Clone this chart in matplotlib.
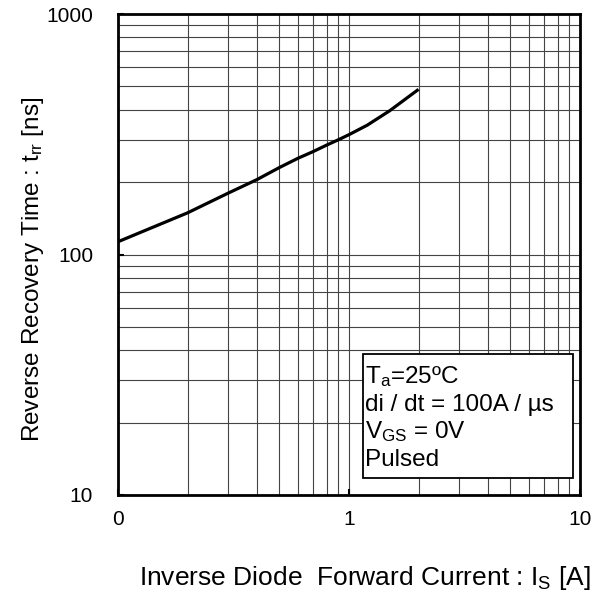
import matplotlib
matplotlib.use('Agg')
import matplotlib.pyplot as plt
from matplotlib.patches import Rectangle

plt.rcParams['font.family'] = ['Liberation Sans', 'DejaVu Sans']
plt.rcParams['mathtext.fontset'] = 'custom'
plt.rcParams['mathtext.rm'] = 'Liberation Sans'
plt.rcParams['mathtext.it'] = 'Liberation Sans'

# curve
current = [0.1, 0.2, 0.3, 0.4, 0.5, 0.6, 0.7, 0.8, 0.9, 1.0, 1.2, 1.5, 2.0]   # I_S [A]
trr = [113, 149, 180, 205, 230, 251, 268, 285, 300, 315, 345, 396, 486]      # t_rr [ns]

xticks = [0.1, 1, 10]
xtick_labels = ['0', '1', '10']
yticks = [10, 100, 1000]
ytick_labels = ['10', '100', '1000']

box_lines = ['T$_{\\mathregular{a}}$=25ºC',
             'di / dt = 100A / µs',
             'V$_{\\mathregular{GS}}$ = 0V',
             'Pulsed']

fig = plt.figure(figsize=(6.01, 6.07), dpi=100)
ax = fig.add_axes([118/601, 1 - 495/607, 462/601, 481/607])

ax.set_xscale('log')
ax.set_yscale('log')
ax.set_xlim(0.1, 10)
ax.set_ylim(10, 1000)

ax.grid(True, which='both', color='#444444', lw=0.8)
ax.set_axisbelow(True)

ax.plot(current, trr, color='black', lw=2.3, solid_capstyle='butt', solid_joinstyle='round')

ax.set_xticks(xticks, xtick_labels)
ax.set_yticks(yticks, ytick_labels)
ax.tick_params(which='minor', length=0)
ax.tick_params(which='major', direction='in', length=4, width=1.5, labelsize=15)
ax.tick_params(axis='x', pad=11)
ax.tick_params(axis='y', pad=18)
for s in ax.spines.values():
    s.set_linewidth(2)

# condition box
ax.add_patch(Rectangle((0.530, 0.035), 0.455, 0.258, transform=ax.transAxes,
                       facecolor='white', edgecolor='black', lw=1.3, zorder=5))
for txt, yy in zip(box_lines, [0.247, 0.187, 0.131, 0.073]):
    ax.text(0.535, yy, txt, transform=ax.transAxes, fontsize=17.5,
            va='center', ha='left', zorder=6)

fig.text(365/601, 1 - 578/607, 'Inverse Diode  Forward Current : I$_{\\mathregular{S}}$ [A]',
         ha='center', va='center', fontsize=19)
fig.text(33/601, 1 - 269/607, 'Reverse Recovery Time : t$_{\\mathregular{rr}}$ [ns]',
         ha='center', va='center', rotation=90, fontsize=17.5)

fig.savefig('out.png', dpi=100)
